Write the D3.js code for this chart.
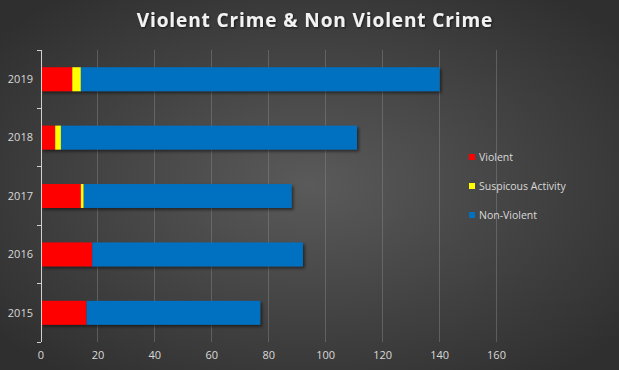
<!DOCTYPE html>
<html><head><meta charset="utf-8">
<script src="https://cdn.jsdelivr.net/npm/d3@7"></script>
<style>body{margin:0;background:#3a3a3a;}svg{display:block;}</style>
</head><body>
<script>
const years = ["2019","2018","2017","2016","2015"];
const violent = [11, 5, 14, 18, 16];
const suspicious = [3, 2, 1, 0, 0];
const nonViolent = [126, 104, 73, 74, 61];
const seriesNames = ["Violent","Suspicous Activity","Non-Violent"];
const seriesColors = ["#ff0000","#ffff00","#0070c0"];
const xTicks = [0,20,40,60,80,100,120,140,160];
const title = "Violent Crime & Non Violent Crime";

const W = 619, H = 370;
const svg = d3.select("body").append("svg").attr("width", W).attr("height", H);
const defs = svg.append("defs");
const rg = defs.append("radialGradient").attr("id","bg").attr("cx","50%").attr("cy","50%").attr("r","65%");
rg.append("stop").attr("offset","0%").attr("stop-color","#5a5a5a");
rg.append("stop").attr("offset","100%").attr("stop-color","#2f2f2f");
const f = defs.append("filter").attr("id","sh").attr("x","-10%").attr("y","-30%").attr("width","130%").attr("height","180%");
f.append("feDropShadow").attr("dx",2).attr("dy",2).attr("stdDeviation",1.5).attr("flood-color","#000").attr("flood-opacity",0.5);
const tf = defs.append("filter").attr("id","tsh");
tf.append("feDropShadow").attr("dx",1).attr("dy",1).attr("stdDeviation",1).attr("flood-color","#000").attr("flood-opacity",0.6);

svg.append("rect").attr("width",W).attr("height",H).attr("fill","url(#bg)");

const x = d3.scaleLinear().domain([0,160]).range([41, 496.5]);
const y = d3.scaleBand().domain(years).range([50, 342]).paddingInner(0.59).paddingOuter(0.295);

// gridlines
svg.append("g").selectAll("line").data(xTicks.filter(d=>d>0)).join("line")
  .attr("x1",d=>x(d)).attr("x2",d=>x(d)).attr("y1",50).attr("y2",342)
  .attr("stroke","#8a8a8a").attr("stroke-opacity",0.45).attr("stroke-width",1).attr("shape-rendering","crispEdges");

const stackData = years.map((yr,i)=>({year:yr, Violent:violent[i], "Suspicous Activity":suspicious[i], "Non-Violent":nonViolent[i]}));
const stack = d3.stack().keys(seriesNames)(stackData);

const barsG = svg.append("g").attr("filter","url(#sh)");
stack.forEach((s,si)=>{
  barsG.selectAll(null).data(s).join("rect")
    .attr("x",d=>x(d[0])).attr("width",d=>Math.max(0,x(d[1])-x(d[0])))
    .attr("y",d=>y(d.data.year)).attr("height",y.bandwidth())
    .attr("fill",seriesColors[si]);
});

// y axis
const yAxis = svg.append("g").attr("transform","translate(41,0)");
yAxis.append("line").attr("x1",0).attr("x2",0).attr("y1",50).attr("y2",342).attr("stroke","#d0d0d0").attr("shape-rendering","crispEdges");
const tickYs = d3.range(years.length+1).map(i=>50+i*(292/5));
yAxis.selectAll("line.t").data(tickYs).join("line").attr("class","t")
  .attr("x1",-4).attr("x2",0).attr("y1",d=>d).attr("y2",d=>d)
  .attr("stroke","#d0d0d0").attr("shape-rendering","crispEdges");
yAxis.selectAll("text").data(years).join("text")
  .attr("x",-8).attr("y",d=>y(d)+y.bandwidth()/2).attr("dy","0.35em")
  .attr("text-anchor","end").attr("fill","#d9d9d9")
  .attr("font-family","'Open Sans', sans-serif").attr("font-size",11).text(d=>d);

// x axis labels
svg.append("g").selectAll("text").data(xTicks).join("text")
  .attr("x",d=>x(d)).attr("y",359).attr("text-anchor","middle").attr("fill","#d9d9d9")
  .attr("font-family","'Open Sans', sans-serif").attr("font-size",11).text(d=>d);

// title
svg.append("text").attr("x",315).attr("y",27).attr("text-anchor","middle")
  .attr("fill","#f2f2f2").attr("font-family","'Open Sans', sans-serif").attr("font-weight","bold")
  .attr("font-size",19).attr("letter-spacing",0.9).attr("filter","url(#tsh)").text(title);

// legend
const legYs = [157, 186, 215];
const leg = svg.append("g");
seriesNames.forEach((n,i)=>{
  leg.append("rect").attr("x",469).attr("y",legYs[i]-3).attr("width",6).attr("height",6).attr("fill",seriesColors[i]);
  leg.append("text").attr("x",479).attr("y",legYs[i]).attr("dy","0.35em").attr("fill","#d9d9d9")
    .attr("font-family","'Open Sans', sans-serif").attr("font-size",10.5).text(n);
});
</script>
</body></html>
